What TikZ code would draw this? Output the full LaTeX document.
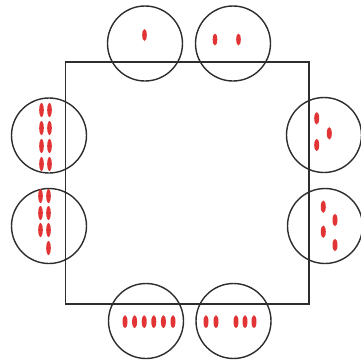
\documentclass[tikz,border=0pt]{standalone}
\definecolor{ringgray}{RGB}{45,45,45}
\definecolor{beadred}{RGB}{226,52,52}
\begin{document}
\begin{tikzpicture}[x=1pt, y=-1pt,
    ring/.style={draw=ringgray, circle, line width=1.4pt, minimum size=75pt, inner sep=0pt},
    bead/.style={fill=beadred}
  ]
  \useasboundingbox (0,0) rectangle (360,362);
  \draw[ringgray, line width=1.4pt] (65.5,62) rectangle (309,304);
  % rings round the square
  \node[ring] (top1) at (145,43.5) {};
  \node[ring] (top2) at (233,43.5) {};
  \node[ring] (right1) at (324,135) {};
  \node[ring] (right2) at (325,226) {};
  \node[ring] (bot2) at (233.5,321) {};
  \node[ring] (bot1) at (146,321) {};
  \node[ring] (left2) at (49,226) {};
  \node[ring] (left1) at (49,135.5) {};
  % beads
  \fill[bead] (144.5,35) ellipse [x radius=2.3pt, y radius=6pt];
  \foreach \x in {215,238.5}
    \fill[bead] (\x,39.5) ellipse [x radius=2.3pt, y radius=6pt];
  \foreach \p in {(316.7,118.3),(329.3,133.3),(316.7,145)}
    \fill[bead] \p ellipse [x radius=2.5pt, y radius=6.2pt];
  \foreach \p in {(323.3,206.7),(335,220),(323.3,231.7),(335,245)}
    \fill[bead] \p ellipse [x radius=2.5pt, y radius=6.2pt];
  \foreach \x in {206,216,236,245,254}
    \fill[bead] (\x,321.7) ellipse [x radius=2.5pt, y radius=6.5pt];
  \foreach \x in {125,134.6,144.2,153.8,163.4,173}
    \fill[bead] (\x,321.7) ellipse [x radius=2.5pt, y radius=6.5pt];
  \foreach \y in {196,213,230}
    \foreach \x in {40.5,48.5}
      \fill[bead] (\x,\y) ellipse [x radius=2.3pt, y radius=7pt];
  \fill[bead] (48.5,248) ellipse [x radius=2.3pt, y radius=7pt];
  \foreach \y in {110,128,146,164}
    \foreach \x in {41.5,49.5}
      \fill[bead] (\x,\y) ellipse [x radius=2.3pt, y radius=7pt];
\end{tikzpicture}
\end{document}
